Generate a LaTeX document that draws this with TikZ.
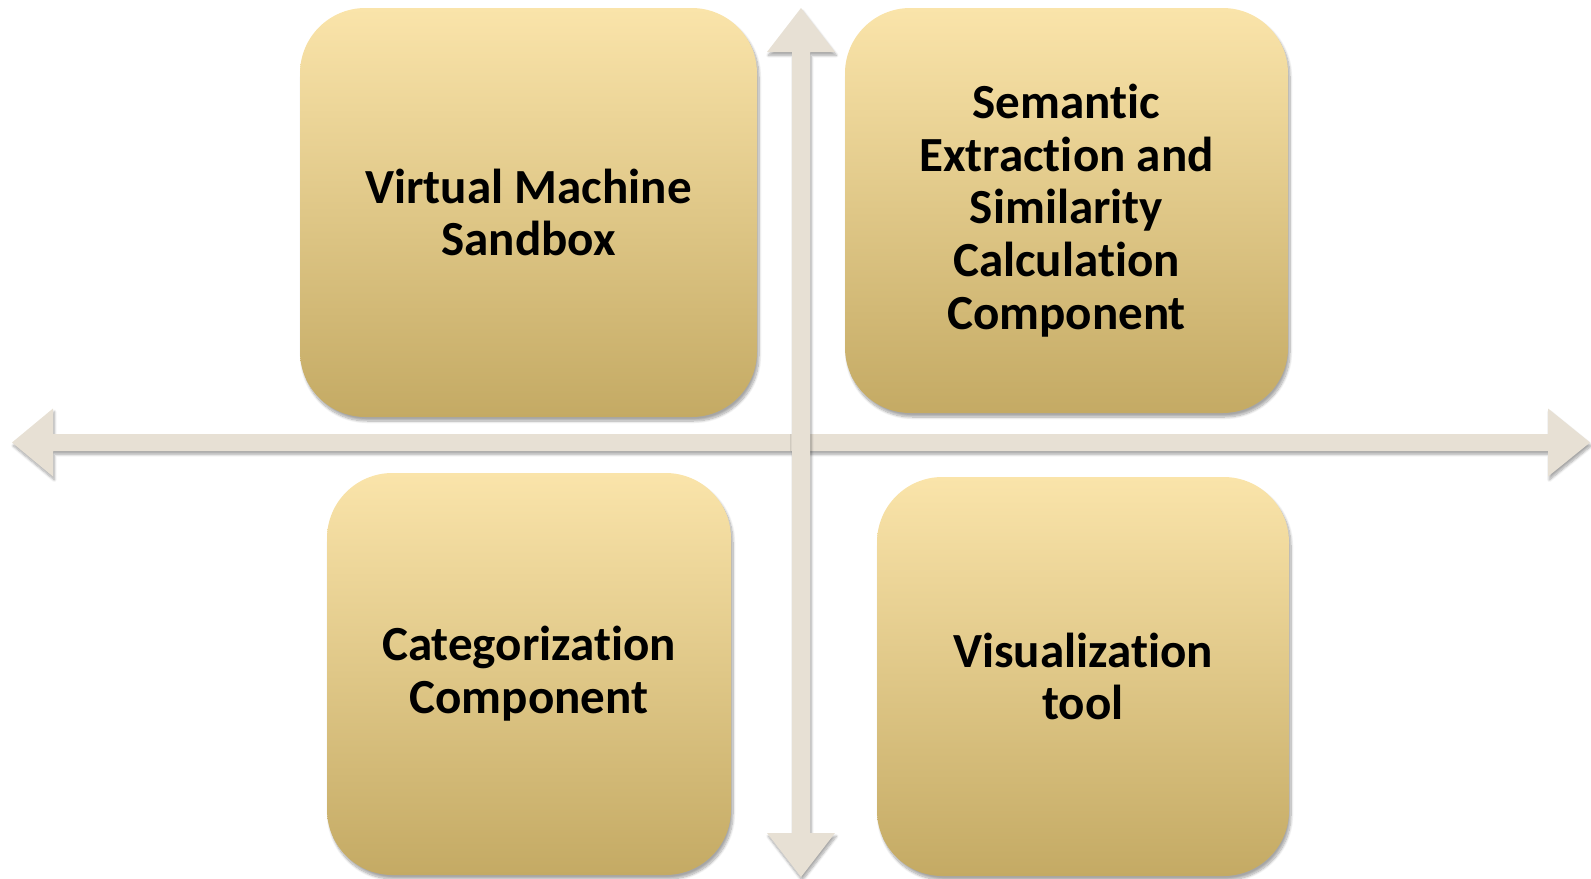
\documentclass[tikz,border=0pt]{standalone}
\usepackage{fontspec}
\setmainfont{Carlito}[Ligatures={NoCommon}]
\usetikzlibrary{shadows.blur}
\definecolor{arrowc}{RGB}{231,224,212}
\definecolor{boxtop}{RGB}{250,228,170}
\definecolor{boxbot}{RGB}{196,170,100}
\tikzset{
  arrowshape/.style={fill=arrowc, draw=none, blur shadow={shadow xshift=1pt, shadow yshift=-2.5pt, shadow blur steps=8, shadow opacity=35}},
  quadbox/.style={rounded corners=49pt, top color=boxtop, bottom color=boxbot, draw=none,
    font=\bfseries\fontsize{36.8}{39.6}\selectfont, text=black, align=center, inner sep=0pt,
    blur shadow={shadow xshift=1.5pt, shadow yshift=-3pt, shadow blur steps=10, shadow opacity=35}}
}
\begin{document}
\begin{tikzpicture}[x=0.75pt,y=-0.75pt]
\useasboundingbox (0,0) rectangle (1591,878);
% arrow end points
\coordinate (lefttip) at (12,442.5);
\coordinate (righttip) at (1590,442.5);
\coordinate (toptip) at (801,8);
\coordinate (bottip) at (801,877);
% horizontal double arrow
\fill[arrowshape] (lefttip) -- (53,408.5) -- (53,434) -- (1548,434) -- (1548,408.5) -- (righttip)
  -- (1548,476.5) -- (1548,451) -- (53,451) -- (53,476.5) -- cycle;
% vertical double arrow
\fill[arrowshape] (toptip) -- (835,52) -- (810,52) -- (810,833) -- (835,833) -- (bottip)
  -- (767,833) -- (792,833) -- (792,52) -- (767,52) -- cycle;
% boxes
\node[quadbox, minimum width=342.75pt, minimum height=306.75pt] (vm) at (528.5,212.5) {Virtual Machine\\Sandbox};
\node[quadbox, minimum width=332.25pt, minimum height=303.75pt] (sem) at (1066.5,210.5) {Semantic\\Extraction and\\Similarity\\Calculation\\Component};
\node[quadbox, minimum width=303pt, minimum height=301.5pt] (cat) at (529,674) {Categorization\\Component};
\node[quadbox, minimum width=309pt, minimum height=299.25pt] (vis) at (1083,676.5) {Visualization\\tool};
\end{tikzpicture}
\end{document}
